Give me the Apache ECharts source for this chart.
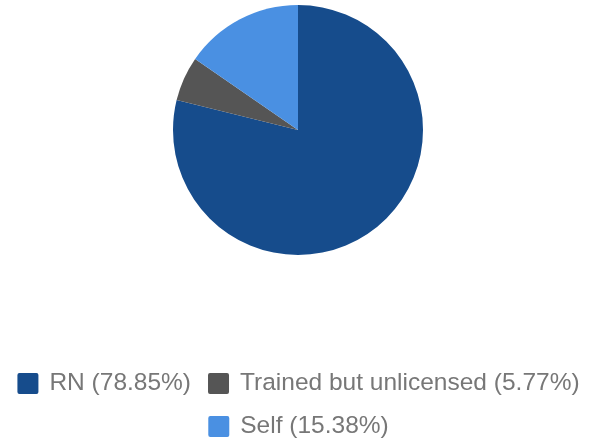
<!DOCTYPE html>
<html>
<head>
<meta charset="utf-8">
<script src="https://cdn.jsdelivr.net/npm/echarts@6/dist/echarts.min.js"></script>
<style>
  html, body { margin: 0; padding: 0; background: #fff; }
</style>
</head>
<body>
<div id="myChart" style="width:597px;height:443px"></div>
<script>
var categories = ['RN', 'Trained but unlicensed', 'Self']
var counts = [41, 3, 8]
var colors = ['#164c8c', '#555555', '#4a90e2']

var total = counts.reduce(function (a, b) { return a + b }, 0)
var pct = {}
categories.forEach(function (name, i) {
  pct[name] = (counts[i] / total * 100).toFixed(2)
})

var legendBase = {
  left: 'center',
  orient: 'horizontal',
  icon: 'path://M2,0 L19,0 Q21,0 21,2 L21,19 Q21,21 19,21 L2,21 Q0,21 0,19 L0,2 Q0,0 2,0 Z',
  itemWidth: 21,
  itemHeight: 21,
  itemGap: 17,
  textStyle: {
    fontFamily: 'Liberation Sans, Arial, sans-serif',
    fontSize: 24.5,
    color: '#777777',
    padding: [0, 0, 0, 6]
  },
  formatter: function (name) {
    return name + ' (' + pct[name] + '%)'
  }
}

var myChart = echarts.init(document.getElementById('myChart'))

myChart.setOption({
  color: colors,
  animation: false,
  legend: [
    Object.assign({}, legendBase, { data: categories.slice(0, 2), top: 366 }),
    Object.assign({}, legendBase, { data: categories.slice(2), top: 409 })
  ],
  series: [{
    type: 'pie',
    center: [298, 130],
    radius: 125,
    startAngle: 90,
    clockwise: true,
    label: { show: false },
    labelLine: { show: false },
    emphasis: { disabled: true },
    data: categories.map(function (name, i) {
      return { name: name, value: counts[i] }
    })
  }]
})
</script>
</body>
</html>
